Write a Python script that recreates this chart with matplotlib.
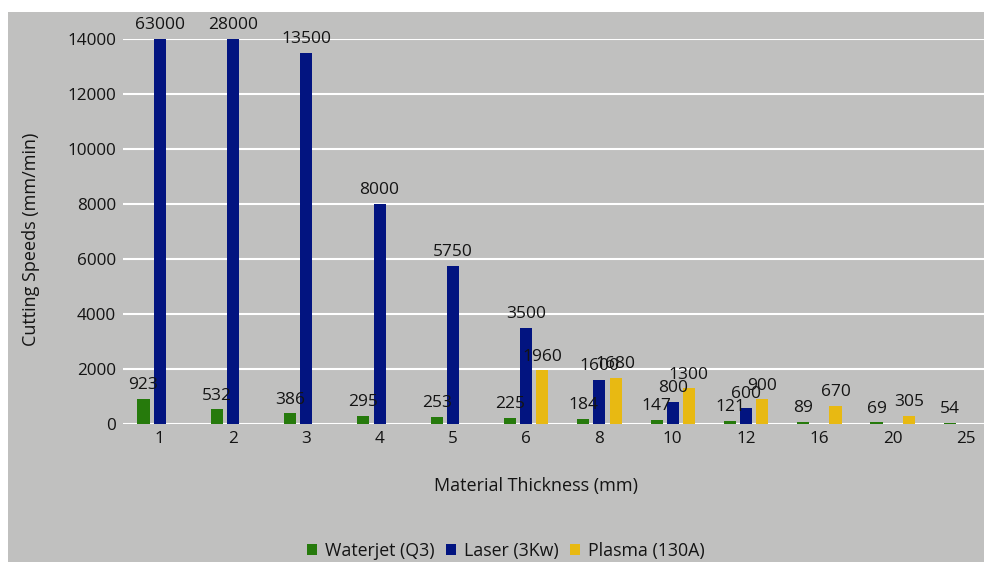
import numpy as np
import matplotlib.pyplot as plt
from matplotlib.patches import Rectangle

plt.rcParams['font.family'] = ['Open Sans', 'DejaVu Sans']

# Dane
grubosci = ['1', '2', '3', '4', '5', '6', '8', '10', '12', '16', '20', '25']
waterjet = [923, 532, 386, 295, 253, 225, 184, 147, 121, 89, 69, 54]
laser = [63000, 28000, 13500, 8000, 5750, 3500, 1600, 800, 600, None, None, None]
plasma = [None, None, None, None, None, 1960, 1680, 1300, 900, 670, 305, None]

serie = [
    ('Waterjet (Q3)', waterjet, '#267a0c'),
    ('Laser (3Kw)', laser, '#021480'),
    ('Plasma (130A)', plasma, '#e8b912'),
]

tlo = '#c0c0bf'
tekst = '#141414'
ymax = 14000

fig = plt.figure(figsize=(9.84, 5.62), dpi=100)
fig.add_artist(Rectangle((8 / 984, 0), 1, 1 - 12 / 562, transform=fig.transFigure,
                         facecolor=tlo, edgecolor='none', zorder=-10))

ax = fig.add_axes([123 / 984, (562 - 424) / 562, (984 - 123) / 984, (424 - 39) / 562])
ax.set_facecolor(tlo)

x = np.arange(len(grubosci))
szer = 0.165
odstep = 0.22

for i, (nazwa, wartosci, kolor) in enumerate(serie):
    pozycje = x + (i - 1) * odstep
    wys = [np.nan if v is None else v for v in wartosci]
    ax.bar(pozycje, wys, width=szer, color=kolor, label=nazwa, zorder=3)
    for px, v in zip(pozycje, wartosci):
        if v is None:
            continue
        ax.annotate(str(v), (px, min(v, ymax)), xytext=(0, 4), textcoords='offset points',
                    ha='center', va='bottom', fontsize=12.5, color=tekst,
                    annotation_clip=False, zorder=5)

ax.set_ylim(0, ymax)
ax.set_xlim(-0.5, -0.5 + 861 / 73.3)
ax.set_yticks(range(0, 14001, 2000))
ax.set_xticks(x)
ax.set_xticklabels(grubosci)
ax.tick_params(length=0, labelsize=12.3, labelcolor=tekst, pad=5)
ax.grid(axis='y', color='white', linewidth=1.5, zorder=0)
ax.set_axisbelow(True)
for s in ax.spines.values():
    s.set_visible(False)

ax.set_ylabel('Cutting Speeds (mm/min)', fontsize=13, color=tekst)
ax.set_xlabel('Material Thickness (mm)', fontsize=13, color=tekst)
ax.yaxis.set_label_coords((40 - 123) / 861, (424 - 239) / 385)
ax.xaxis.set_label_coords((536 - 123) / 861, (424 - 477) / 385)

fig.legend(loc='center', bbox_to_anchor=(506 / 984, 11 / 562), ncol=3, frameon=False,
           fontsize=12.8, handlelength=0.55, handleheight=0.55, handletextpad=0.5,
           columnspacing=0.6, labelcolor=tekst)

fig.savefig('out.png', dpi=100)
